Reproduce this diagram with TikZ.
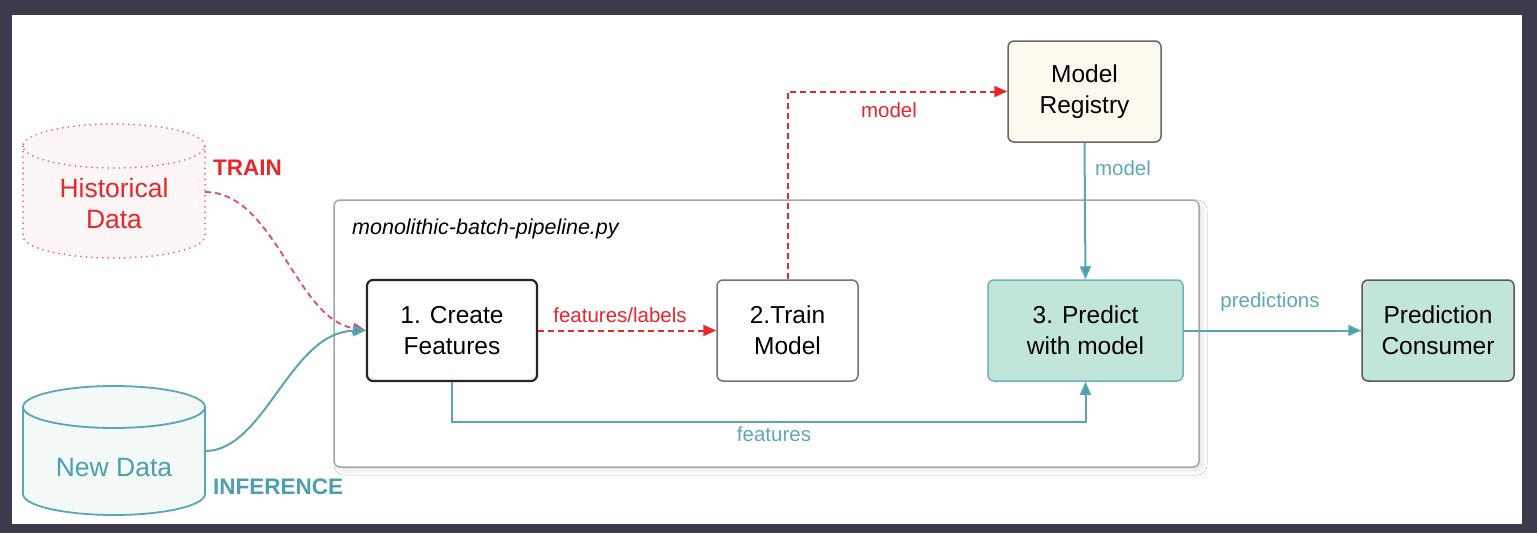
\documentclass[tikz,border=0pt]{standalone}
\usepackage{fontspec}
\setmainfont{Liberation Sans}
\usetikzlibrary{arrows.meta,shadows.blur}
\definecolor{frame}{HTML}{3D3B4B}
\definecolor{cred}{HTML}{E8262B}
\definecolor{cpink}{HTML}{E2487A}
\definecolor{cdot}{HTML}{E86B8F}
\definecolor{cteal}{HTML}{4E9FAE}
\definecolor{clteal}{HTML}{5FA9B6}
\definecolor{cline}{HTML}{5AA6B3}
\definecolor{ctip}{HTML}{4A9AAA}
\definecolor{cgreen}{HTML}{C2E5D9}
\definecolor{cgborder}{HTML}{6DB3BC}
\definecolor{cregfill}{HTML}{FDF9EE}
\definecolor{cnewfill}{HTML}{F2F9F6}
\definecolor{chistfill}{HTML}{FDF6F6}
\tikzset{
  big/.style={font=\fontsize{24.5}{31}\selectfont},
  cyl/.style={font=\fontsize{26.5}{31}\selectfont},
  small/.style={font=\fontsize{20.5}{24}\selectfont},
  box/.style={draw, rounded corners=6pt, line width=1.5pt, align=center, inner sep=0pt, big, minimum height=101pt},
  redflow/.style={-{Triangle[length=13pt,width=11pt,fill=cred]}, draw=cred, line width=2pt, dash pattern=on 6pt off 4pt},
  tealflow/.style={-{Triangle[length=13pt,width=11pt,fill=ctip]}, draw=cline, line width=2pt},
}
\begin{document}
\begin{tikzpicture}[x=1pt,y=-1pt]
\useasboundingbox (0,0) rectangle (1537,533);
\fill[frame] (0,0) rectangle (1537,533);
\fill[white] (12,15) rectangle (1522,524);

% container
\node[draw=black!35, line width=1.5pt, rounded corners=6pt, fill=white,
  blur shadow={shadow xshift=4pt, shadow yshift=-4pt, shadow blur radius=4pt, shadow blur steps=8, shadow opacity=10, shadow scale=1},
  minimum width=865pt, minimum height=267pt, inner sep=0pt] (cont) at (766.5,333.5) {};
\node[anchor=west, inner sep=0pt, font=\fontsize{21.5}{24}\selectfont\itshape] (clabel) at (352,229) {monolithic-batch-pipeline.py};

% Historical Data cylinder
\fill[chistfill] (23,146) -- (23,236) arc[start angle=180,end angle=360,x radius=91pt,y radius=22pt] -- (205,146) arc[start angle=0,end angle=180,x radius=91pt,y radius=22pt] -- cycle;
\draw[cdot, line width=2pt, line cap=round, dash pattern=on 0pt off 5.5pt]
  (23,146) -- (23,236) arc[start angle=180,end angle=360,x radius=91pt,y radius=22pt] -- (205,146);
\draw[cdot, line width=2pt, line cap=round, dash pattern=on 0pt off 5.5pt]
  (114,146) ellipse[x radius=91pt, y radius=22pt];
\node[cyl, text=cred, align=center] (hist) at (114,203.5) {Historical\\Data};
\coordinate (histout) at (205,192);

% New Data cylinder
\fill[cnewfill] (23,407) -- (23,494) arc[start angle=180,end angle=360,x radius=91pt,y radius=21pt] -- (205,407) arc[start angle=0,end angle=180,x radius=91pt,y radius=21pt] -- cycle;
\draw[cline, line width=1.8pt]
  (23,407) -- (23,494) arc[start angle=180,end angle=360,x radius=91pt,y radius=21pt] -- (205,407);
\draw[cline, line width=1.8pt] (114,407) ellipse[x radius=91pt, y radius=21pt];
\node[cyl, text=cteal] (newd) at (114,468) {New Data};
\coordinate (newout) at (205,451);

\node[font=\fontsize{22.5}{26}\selectfont\bfseries, text=cred, anchor=west, inner sep=0pt] (train) at (213,168) {TRAIN};
\node[font=\fontsize{22.5}{26}\selectfont\bfseries, text=cteal, anchor=west, inner sep=0pt] (infer) at (213,487) {INFERENCE};

% boxes
\node[box, draw=black!85, line width=2.2pt, fill=white, minimum width=170pt] (cf) at (452,330.5) {1. Create\\Features};
\node[box, draw=black!55, fill=white, minimum width=141pt] (tm) at (787.5,330.5) {2.Train\\Model};
\node[box, draw=cgborder, fill=cgreen, minimum width=195pt] (pr) at (1085.5,330.5) {3. Predict\\with model};
\node[box, draw=black!65, fill=cgreen, minimum width=152pt] (pc) at (1438,330.5) {Prediction\\Consumer};
\node[box, draw=black!60, fill=cregfill, minimum width=153pt] (mr) at (1084.5,91.5) {Model\\Registry};

% connectors
\draw[-{Triangle[length=13pt,width=11pt,fill=cpink]}, draw=cpink, line width=1.8pt, dash pattern=on 6pt off 4pt]
  (histout) .. controls (275,192) and (295,318) .. (cf.west);
\draw[tealflow] (newout) .. controls (265,451) and (290,332) .. (cf.west);

\draw[redflow] (cf.east) -- (tm.west);
\node[small, text=cred] (lfl) at (620,315) {features/labels};

\draw[redflow] (tm.north) |- (mr.west);
\node[small, text=cred] (lm1) at (889,110) {model};

\draw[tealflow] (mr.south) -- (pr.north);
\node[small, text=clteal] (lm2) at (1123,168) {model};

\coordinate (flow) at (600,422);
\draw[tealflow] (cf.south) -- (cf.south |- flow) -| (pr.south);
\node[small, text=clteal] (lf) at (774,434) {features};

\draw[tealflow] (pr.east) -- (pc.west);
\node[small, text=clteal] (lp) at (1270,302) {predictions};
\end{tikzpicture}
\end{document}
